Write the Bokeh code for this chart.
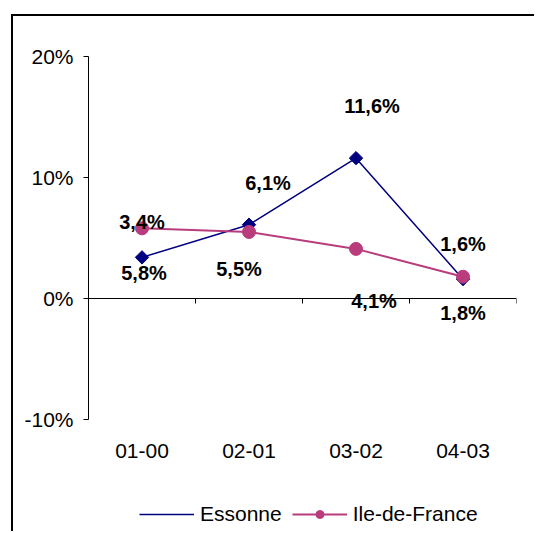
import math
from bokeh.plotting import figure
from bokeh.models import (Range1d, FixedTicker, PrintfTickFormatter,
                          Legend, LegendItem, ColumnDataSource, Span,
                          CDSView, IndexFilter)
from bokeh.core.properties import value
from bokeh.embed import file_html
from bokeh.resources import INLINE

categories = ["01-00", "02-01", "03-02", "04-03"]
essonne = [3.4, 6.1, 11.6, 1.6]
idf = [5.8, 5.5, 4.1, 1.8]
essonne_labels = ["3,4%", "6,1%", "11,6%", "1,6%"]
idf_labels = ["5,8%", "5,5%", "4,1%", "1,8%"]
y_ticks = [-10, 0, 10, 20]

# label placement offsets (screen px) relative to each point
ess_dx = [0, 19, 16, 0]
ess_dy = [-35, -42, -52, -35]
idf_dx = [2, -10, 18, 0]
idf_dy = [45, 37, 52, 36]

n = len(categories)
xc = [i + 0.5 for i in range(n)]          # category centres
xb = [i + 1 for i in range(n)]            # category boundaries (tick marks)
FONT = "Liberation Sans"
NAVY = "#000080"
PINK = "#B93C7C"

# layout: axis area from -10% to 20% over 363 px, plot area extends 114 px below
ymin, ymax = y_ticks[0], y_ticks[-1]
px_per_unit = 363 / (ymax - ymin)
y_bottom = ymin - 114 / px_per_unit

p = figure(width=523, height=517, output_backend="svg", toolbar_location=None,
           x_range=Range1d(0, n), y_range=Range1d(y_bottom, ymax),
           x_axis_location=None, min_border_left=75, min_border_top=40,
           min_border_right=20, min_border_bottom=0)
p.margin = (14, 0, 0, 11)
p.styles = {"border-left": "2px solid #000", "border-top": "2px solid #000"}
p.outline_line_color = None
p.xgrid.visible = False
p.ygrid.visible = False
p.background_fill_color = "white"
p.border_fill_color = "white"

# y axis
ya = p.yaxis[0]
ya.ticker = FixedTicker(ticks=y_ticks)
ya.formatter = PrintfTickFormatter(format="%d%%")
ya.bounds = (ymin, ymax)
ya.major_tick_out = 5
ya.major_tick_in = 0
ya.minor_tick_line_color = None
ya.axis_line_color = "black"
ya.major_tick_line_color = "black"
ya.major_label_text_font = FONT
ya.major_label_text_font_size = "21px"
ya.major_label_text_color = "black"
ya.major_label_standoff = 10

# category axis line at 0% with boundary ticks
p.add_layout(Span(location=0, dimension="width", line_color="black", line_width=1))
p.ray(x=xb, y=[0] * n, length=5, length_units="screen", angle=-math.pi / 2,
      line_color="black", line_width=1)

# category labels below -10%
p.text(x=xc, y=[ymin] * n, text=categories, y_offset=31,
       text_align="center", text_baseline="middle", text_font=value(FONT),
       text_font_size="21px", text_color="black")

src_e = ColumnDataSource(dict(x=xc, y=essonne, t=essonne_labels, dx=ess_dx, dy=ess_dy))
src_i = ColumnDataSource(dict(x=xc, y=idf, t=idf_labels, dx=idf_dx, dy=idf_dy))

le = p.line("x", "y", source=src_e, line_color=NAVY, line_width=1.5)
me = p.scatter("x", "y", source=src_e, marker="square", angle=0.785398, size=9.5,
               fill_color=NAVY, line_color=NAVY)
li = p.line("x", "y", source=src_i, line_color=PINK, line_width=2)
mi = p.scatter("x", "y", source=src_i, marker="circle", size=13,
               fill_color=PINK, line_color=PINK)

# legend-only diamond glyph: same data, but the view shows no points
me_leg = p.scatter("x", "y", source=src_e, view=CDSView(filter=IndexFilter([])),
                   marker="diamond", size=16, fill_color=NAVY, line_color=NAVY)

for s in (src_e, src_i):
    p.text("x", "y", text="t", source=s, x_offset="dx", y_offset="dy",
           text_align="center", text_baseline="middle",
           text_font=value(FONT), text_font_style="bold",
           text_font_size="20px", text_color="black")

legend = Legend(items=[LegendItem(label="Essonne", renderers=[le, me_leg]),
                       LegendItem(label="Ile-de-France", renderers=[li, mi])],
                orientation="horizontal", location=(51, 7),
                label_text_font=FONT, label_text_font_size="21px",
                label_text_color="black",
                glyph_width=55, glyph_height=20, label_standoff=6, spacing=10,
                padding=0, margin=0, border_line_color=None,
                background_fill_alpha=0)
p.add_layout(legend)

open("out.html", "w").write(file_html(p, INLINE))
